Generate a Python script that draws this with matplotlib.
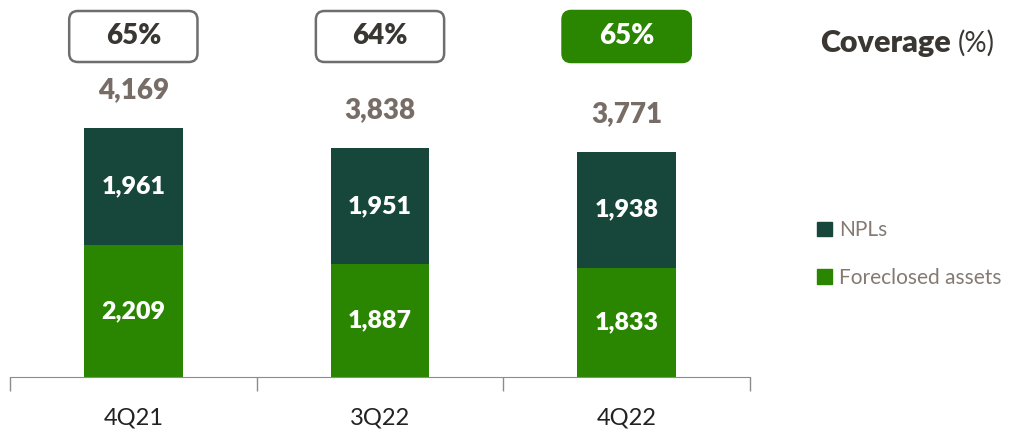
import matplotlib.pyplot as plt
from matplotlib.patches import FancyBboxPatch, Patch
from matplotlib.transforms import blended_transform_factory
import numpy as np

plt.rcParams['font.family'] = ['Lato', 'DejaVu Sans']

# data
quarters = ['4Q21', '3Q22', '4Q22']
foreclosed = [2209, 1887, 1833]
npls = [1961, 1951, 1938]
totals = [4169, 3838, 3771]
coverage = [65, 64, 65]

c_npl = '#17463a'
c_fore = '#2a8500'
c_grey = '#776d66'
c_dark = '#3a3733'

fig = plt.figure(figsize=(10.12, 4.29), dpi=100)
ax = fig.add_axes([10 / 1012, 52 / 429, 740 / 1012, 377 / 429])

x = np.arange(len(quarters))
w = 0.4
ax.bar(x, foreclosed, w, color=c_fore, label='Foreclosed assets')
ax.bar(x, npls, w, bottom=foreclosed, color=c_npl, label='NPLs')

for i in range(len(x)):
    ax.text(x[i], foreclosed[i] / 2, f'{foreclosed[i]:,}', ha='center', va='center',
            color='white', fontsize=18, fontweight='heavy')
    ax.text(x[i], foreclosed[i] + npls[i] / 2, f'{npls[i]:,}', ha='center', va='center',
            color='white', fontsize=18, fontweight='heavy')
    ax.annotate(f'{totals[i]:,}', (x[i], totals[i]), xytext=(0, 38), textcoords='offset pixels',
                ha='center', va='center', color=c_grey, fontsize=20, fontweight='heavy')

# coverage boxes
trans = blended_transform_factory(ax.transData, ax.transAxes)
box_y0 = (377 - 62) / 377
box_h = 51 / 377
for i in range(len(x)):
    last = i == len(x) - 1
    box = FancyBboxPatch((x[i] - 0.26, box_y0), 0.52, box_h,
                         boxstyle='round,pad=0,rounding_size=0.035',
                         mutation_aspect=(1 / 377) / (3 / 740),
                         transform=trans, clip_on=False,
                         facecolor=c_fore if last else 'white',
                         edgecolor=c_fore if last else '#6e6e6e', linewidth=1.8)
    ax.add_patch(box)
    ax.text(x[i], box_y0 + box_h / 2, f'{coverage[i]}%', transform=trans,
            ha='center', va='center', fontsize=20, fontweight='heavy',
            color='white' if last else c_dark)

fig.text(820 / 1012, 1 - 43 / 429, 'Coverage', fontsize=22, fontweight='heavy',
         color=c_dark, va='center', ha='left')
fig.text(958 / 1012, 1 - 43 / 429, '(%)', fontsize=20, color=c_dark, va='center', ha='left')

ax.set_xlim(-0.5, 2.5)
ax.set_ylim(0, 377 / 0.0597)
ax.set_yticks([])
for s in ['top', 'right', 'left']:
    ax.spines[s].set_visible(False)
ax.spines['bottom'].set_color('#8c8c8c')
ax.set_xticks(x)
ax.set_xticklabels(quarters, fontsize=17, color='#222222')
ax.tick_params(axis='x', which='major', length=0, pad=22)
ax.set_xticks([-0.5, 0.5, 1.5, 2.5], minor=True)
ax.tick_params(axis='x', which='minor', length=10, color='#8c8c8c', width=1)

handles = [Patch(color=c_npl, label='NPLs'), Patch(color=c_fore, label='Foreclosed assets')]
fig.legend(handles=handles, loc='center left', bbox_to_anchor=(817 / 1012, 1 - 254 / 429),
           frameon=False, fontsize=15, labelcolor='#857a73', handlelength=0.7,
           handleheight=0.7, handletextpad=0.35, labelspacing=1.3, borderpad=0,
           borderaxespad=0)

fig.savefig('out.png', dpi=100)
